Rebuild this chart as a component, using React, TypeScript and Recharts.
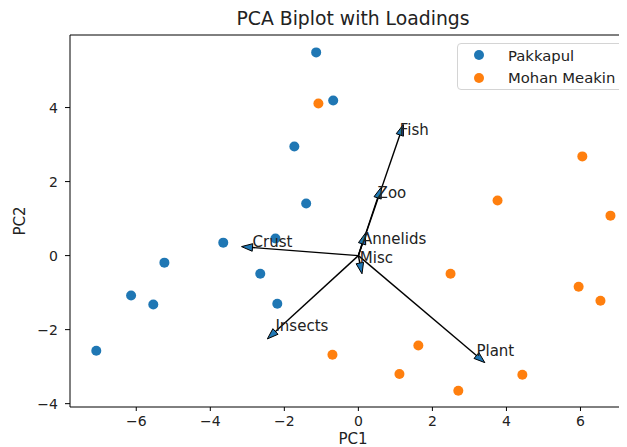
import React from 'react'
import { ScatterChart, Scatter, XAxis, YAxis, ReferenceLine, Legend } from 'recharts'

// PCA scores
const pakkapulX = [-1.14, -0.68, -1.73, -1.41, -3.65, -2.24, -2.65, -2.19, -5.24, -6.14, -5.54, -7.08]
const pakkapulY = [5.49, 4.19, 2.95, 1.41, 0.35, 0.46, -0.49, -1.3, -0.19, -1.08, -1.32, -2.57]
const mohanX = [-1.08, 6.05, 3.76, 6.81, 2.49, 5.95, 6.54, 1.62, -0.7, 1.11, 4.43, 2.7]
const mohanY = [4.11, 2.68, 1.49, 1.08, -0.49, -0.84, -1.22, -2.43, -2.68, -3.2, -3.22, -3.65]

// loading vectors (arrow end = label anchor)
const loadingNames = ['Fish', 'Zoo', 'Annelids', 'Misc', 'Crust', 'Insects', 'Plant']
const loadingX = [1.12, 0.52, 0.1, 0.04, -2.86, -2.24, 3.19]
const loadingY = [3.26, 1.56, 0.32, -0.2, 0.22, -2.05, -2.7]

const seriesNames = ['Pakkapul', 'Mohan Meakin']
const xTicks = [-6, -4, -2, 0, 2, 4, 6]
const yTicks = [-4, -2, 0, 2, 4]

const colors = {
  pakkapul: '#1f77b4',
  mohan: '#ff7f0e',
  text: '#222',
}

const font = '"DejaVu Sans", sans-serif'

const pakkapul = pakkapulX.map((x, i) => ({ x, y: pakkapulY[i] }))
const mohan = mohanX.map((x, i) => ({ x, y: mohanY[i] }))
const loadings = loadingNames.map((name, i) => ({ name, x: loadingX[i], y: loadingY[i] }))

const fmt = (v: number) => (v < 0 ? '\u2212' + Math.abs(v) : String(v))

const Dot = (color: string) => (p: any) => <circle cx={p.cx} cy={p.cy} r={5} fill={color} />

// arrow head + label drawn at the loading end point
function ArrowHead(p: any) {
  const { cx, cy, payload } = p
  const len = Math.hypot(payload.x, payload.y)
  const ux = payload.x / len
  const uy = -payload.y / len
  const hl = 11
  const hw = 3.8
  const tipX = cx + ux * hl
  const tipY = cy + uy * hl
  const pts = [
    [cx - uy * hw, cy + ux * hw],
    [tipX, tipY],
    [cx + uy * hw, cy - ux * hw],
  ]
  return (
    <g>
      <polygon points={pts.map((q) => q.join(',')).join(' ')} fill={colors.pakkapul} stroke="#000" strokeWidth={1} />
      <text x={cx} y={cy} fontSize={15} fill={colors.text} fontFamily={font}>
        {payload.name}
      </text>
    </g>
  )
}

function LegendBox({ payload }: any) {
  const items = seriesNames
    .map((n) => (payload || []).find((e: any) => e.value === n))
    .filter(Boolean)
  return (
    <div
      style={{
        border: '1px solid #d4d4d4',
        borderRadius: 4,
        background: 'rgba(255,255,255,0.8)',
        padding: 0,
        fontFamily: font,
        fontSize: 14.8,
        color: colors.text,
        width: 200,
      }}
    >
      {items.map((e: any) => (
        <div key={e.value} style={{ display: 'flex', alignItems: 'center', height: 22.5 }}>
          <span
            style={{
              display: 'inline-block',
              width: 10,
              height: 10,
              borderRadius: 5,
              background: e.color,
              marginLeft: 16,
              marginRight: 24,
            }}
          />
          {e.value}
        </div>
      ))}
    </div>
  )
}

export default function App() {
  return (
    <div style={{ width: 619, height: 439, overflow: 'hidden', position: 'relative', background: '#fff' }}>
      <div
        style={{
          position: 'absolute',
          left: 62,
          width: 566,
          top: 0,
          textAlign: 'center',
          fontFamily: font,
          fontSize: 18.8,
          color: colors.text,
        }}
      >
        PCA Biplot with Loadings
      </div>
      <ScatterChart
        width={660}
        height={460}
        margin={{ top: 27, right: 32, bottom: 21, left: 0 }}
        style={{ fontFamily: font }}
      >
        <XAxis
          type="number"
          dataKey="x"
          domain={[-7.79, 7.5]}
          ticks={xTicks}
          tickFormatter={fmt}
          allowDataOverflow
          height={40}
          tickSize={4}
          tickMargin={5}
          stroke="#000"
          tick={{ fill: colors.text, fontSize: 14 }}
          label={{ value: 'PC1', position: 'insideBottom', offset: 3, fill: colors.text, fontSize: 15 }}
        />
        <YAxis
          type="number"
          dataKey="y"
          domain={[-4.09, 5.96]}
          ticks={yTicks}
          tickFormatter={fmt}
          allowDataOverflow
          width={62}
          tickSize={5}
          tickMargin={7}
          stroke="#000"
          tick={{ fill: colors.text, fontSize: 14 }}
          label={{
            value: 'PC2',
            angle: -90,
            position: 'insideLeft',
            offset: 12,
            fill: colors.text,
            fontSize: 15,
            style: { textAnchor: 'middle' },
          }}
        />
        <ReferenceLine y={5.96} stroke="#000" ifOverflow="visible" />
        <ReferenceLine x={7.5} stroke="#000" ifOverflow="visible" />
        <Legend
          layout="horizontal"
          verticalAlign="middle"
          align="center"
          content={<LegendBox />}
          wrapperStyle={{ left: 449, top: 35, width: 200 }}
        />
        <Scatter name="Pakkapul" data={pakkapul} fill={colors.pakkapul} shape={Dot(colors.pakkapul)} isAnimationActive={false} />
        <Scatter name="Mohan Meakin" data={mohan} fill={colors.mohan} shape={Dot(colors.mohan)} isAnimationActive={false} />
        {loadings.map((l) => (
          <ReferenceLine
            key={l.name}
            segment={[
              { x: 0, y: 0 },
              { x: l.x, y: l.y },
            ]}
            stroke="#000"
            strokeWidth={1.4}
          />
        ))}
        <Scatter
          name="Loadings"
          data={loadings}
          legendType="none"
          shape={ArrowHead}
          isAnimationActive={false}
        />
      </ScatterChart>
    </div>
  )
}
